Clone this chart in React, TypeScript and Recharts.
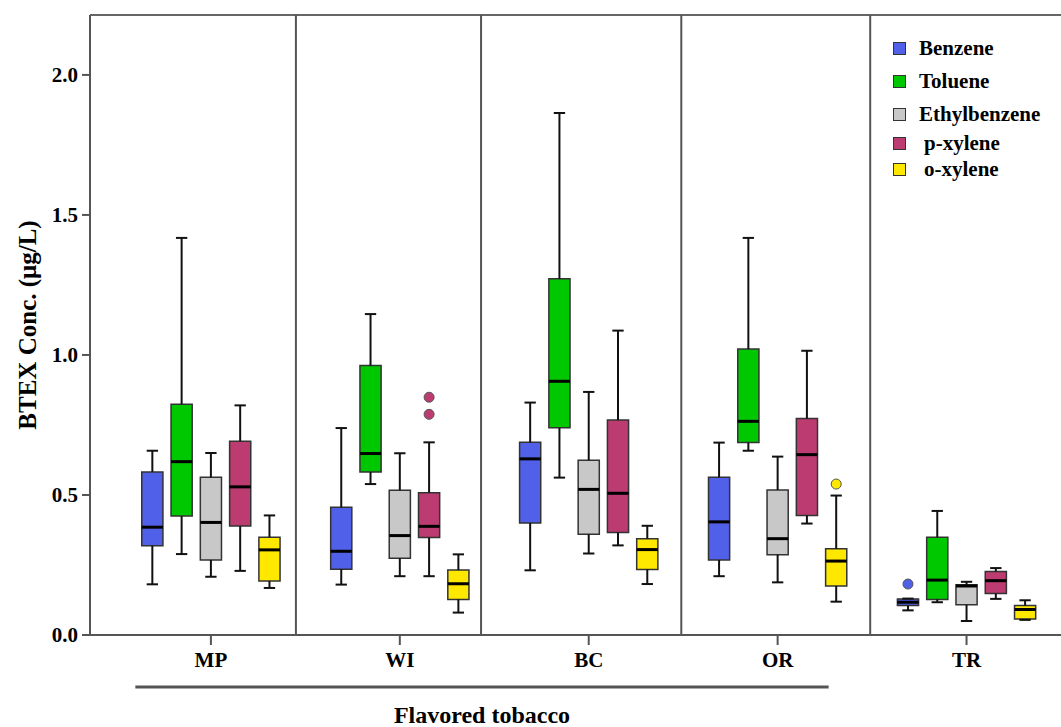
import React from "react";
import {
  ComposedChart,
  XAxis,
  YAxis,
  Scatter,
  ReferenceArea,
  ReferenceLine,
} from "recharts";

// tobacco groups along the x axis
const CATEGORIES = ["MP", "WI", "BC", "OR", "TR"];
const Y_TICKS = [0, 0.5, 1.0, 1.5, 2.0];
const Y_MAX = 2.214;

// [min, q1, median, q3, max] per group (ug/L)
const benzene = [
  [0.181, 0.319, 0.385, 0.582, 0.658],
  [0.18, 0.235, 0.299, 0.456, 0.739],
  [0.231, 0.4, 0.629, 0.688, 0.83],
  [0.21, 0.268, 0.404, 0.563, 0.687],
  [0.088, 0.105, 0.117, 0.129, 0.13],
];
const toluene = [
  [0.289, 0.425, 0.619, 0.824, 1.418],
  [0.539, 0.582, 0.648, 0.962, 1.146],
  [0.562, 0.74, 0.906, 1.272, 1.864],
  [0.658, 0.687, 0.763, 1.021, 1.418],
  [0.117, 0.127, 0.196, 0.349, 0.443],
];
const ethylbenzene = [
  [0.208, 0.268, 0.402, 0.563, 0.65],
  [0.21, 0.274, 0.355, 0.517, 0.649],
  [0.291, 0.36, 0.52, 0.624, 0.868],
  [0.188, 0.287, 0.344, 0.518, 0.637],
  [0.05, 0.108, 0.175, 0.179, 0.19],
];
const pXylene = [
  [0.229, 0.389, 0.529, 0.692, 0.82],
  [0.21, 0.348, 0.388, 0.508, 0.688],
  [0.32, 0.366, 0.506, 0.768, 1.087],
  [0.398, 0.427, 0.644, 0.773, 1.015],
  [0.129, 0.148, 0.194, 0.227, 0.239],
];
const oXylene = [
  [0.168, 0.193, 0.304, 0.349, 0.427],
  [0.08, 0.127, 0.183, 0.232, 0.288],
  [0.182, 0.234, 0.305, 0.344, 0.39],
  [0.119, 0.175, 0.264, 0.308, 0.498],
  [0.054, 0.057, 0.091, 0.105, 0.124],
];

// outliers: [group index, value]
const benzeneOutliers = [[4, 0.182]];
const tolueneOutliers: number[][] = [];
const ethylbenzeneOutliers: number[][] = [];
const pXyleneOutliers = [
  [1, 0.788],
  [1, 0.849],
];
const oXyleneOutliers = [[3, 0.539]];

// where the group separators sit on the x scale
const DIVIDERS = [1.45, 2.43, 3.49, 4.49];
// the "Flavored tobacco" bracket spans these x values
const FLAVORED_SPAN = [0.6, 4.27];

const SERIES = [
  { name: "Benzene", color: "#5060e8", boxes: benzene, outliers: benzeneOutliers },
  { name: "Toluene", color: "#00c800", boxes: toluene, outliers: tolueneOutliers },
  { name: "Ethylbenzene", color: "#c8c8c8", boxes: ethylbenzene, outliers: ethylbenzeneOutliers },
  { name: "p-xylene", color: "#bc3c72", boxes: pXylene, outliers: pXyleneOutliers },
  { name: "o-xylene", color: "#ffe800", boxes: oXylene, outliers: oXyleneOutliers },
];

const OFFSETS = [-0.31, -0.155, 0, 0.155, 0.31];
const BOX_HALF = 0.056;
const CAP_HALF = 0.03;
const FONT = "'Liberation Serif', 'Times New Roman', serif";
const LEGEND_TOPS = [0, 33, 66, 95, 121];

function BoxLegend() {
  return (
    <div style={{ position: "absolute", left: 893, top: 36, width: 170, height: 140, fontFamily: FONT }}>
      {SERIES.map((s, i) => (
        <div
          key={s.name}
          style={{
            position: "absolute",
            top: LEGEND_TOPS[i],
            left: 0,
            display: "flex",
            alignItems: "center",
            fontWeight: "bold",
            fontSize: 21,
            lineHeight: "24px",
            color: "#000",
            whiteSpace: "nowrap",
          }}
        >
          <span
            style={{
              display: "inline-block",
              width: 11,
              height: 11,
              background: s.color,
              border: "1px solid #333",
              marginRight: i > 2 ? 18 : 13,
            }}
          />
          {s.name}
        </div>
      ))}
    </div>
  );
}

export default function App() {
  const boxes: React.ReactNode[] = [];
  SERIES.forEach((s, si) => {
    s.boxes.forEach(([min, q1, med, q3, max], ci) => {
      const x = ci + 1 + OFFSETS[si];
      const k = `${si}-${ci}`;
      boxes.push(
        <ReferenceLine key={`wu${k}`} segment={[{ x, y: q3 }, { x, y: max }]} stroke="#111" strokeWidth={2} />,
        <ReferenceLine key={`wl${k}`} segment={[{ x, y: min }, { x, y: q1 }]} stroke="#111" strokeWidth={2} />,
        <ReferenceLine key={`cu${k}`} segment={[{ x: x - CAP_HALF, y: max }, { x: x + CAP_HALF, y: max }]} stroke="#111" strokeWidth={2} />,
        <ReferenceLine key={`cl${k}`} segment={[{ x: x - CAP_HALF, y: min }, { x: x + CAP_HALF, y: min }]} stroke="#111" strokeWidth={2} />,
        <ReferenceArea
          key={`b${k}`}
          x1={x - BOX_HALF}
          x2={x + BOX_HALF}
          y1={q1}
          y2={q3}
          fill={s.color}
          fillOpacity={1}
          stroke="#333"
          strokeWidth={1.5}
        />,
        <ReferenceLine key={`m${k}`} segment={[{ x: x - BOX_HALF, y: med }, { x: x + BOX_HALF, y: med }]} stroke="#000" strokeWidth={3} />
      );
    });
  });

  return (
    <div style={{ position: "fixed", left: 0, top: 0, width: 1061, height: 727, background: "#fff" }}>
      <ComposedChart width={1061} height={727} margin={{ top: 15, right: 0, bottom: 0, left: 0 }}>
        <XAxis
          dataKey="x"
          type="number"
          domain={[0.36, 5.5]}
          ticks={[1, 2, 3, 4, 5]}
          tickFormatter={(v: number) => CATEGORIES[v - 1]}
          allowDataOverflow
          height={92}
          stroke="#555"
          strokeWidth={2}
          tickSize={10}
          tickMargin={7}
          tick={{ fill: "#000", fontFamily: FONT, fontWeight: "bold", fontSize: 21 }}
        />
        <YAxis
          dataKey="y"
          type="number"
          domain={[0, Y_MAX]}
          ticks={Y_TICKS}
          tickFormatter={(v: number) => v.toFixed(1)}
          allowDataOverflow
          width={90}
          stroke="#555"
          strokeWidth={2}
          tickSize={8}
          tickMargin={4}
          tick={{ fill: "#000", fontFamily: FONT, fontWeight: "bold", fontSize: 21 }}
          label={{
            content: (props: any) => {
              const vb = props.viewBox || {};
              const cy = (vb.y ?? 15) + (vb.height ?? 620) / 2;
              return (
                <text
                  x={27}
                  y={cy}
                  transform={`rotate(-90 27 ${cy})`}
                  textAnchor="middle"
                  dominantBaseline="central"
                  fontFamily={FONT}
                  fontWeight="bold"
                  fontSize={25}
                  fill="#000"
                >
                  BTEX Conc. (μg/L)
                </text>
              );
            },
          }}
        />
        <ReferenceLine y={Y_MAX} stroke="#666" strokeWidth={2} ifOverflow="visible" />
        {DIVIDERS.map((d) => (
          <ReferenceLine key={d} x={d} stroke="#555" strokeWidth={2} />
        ))}
        <ReferenceLine
          segment={[
            { x: FLAVORED_SPAN[0], y: -0.186 },
            { x: FLAVORED_SPAN[1], y: -0.186 },
          ]}
          stroke="#555"
          strokeWidth={3}
          ifOverflow="visible"
          label={{
            content: (props: any) => {
              const vb = props.viewBox || {};
              return (
                <text
                  x={(vb.x ?? 0) + (vb.width ?? 0) / 2}
                  y={(vb.y ?? 0) + 36}
                  textAnchor="middle"
                  fontFamily={FONT}
                  fontWeight="bold"
                  fontSize={24}
                  fill="#000"
                >
                  Flavored tobacco
                </text>
              );
            },
          }}
        />
        {boxes}
        {SERIES.map((s, si) => (
          <Scatter
            key={s.name}
            name={s.name}
            data={s.outliers.map(([ci, v]) => ({ x: ci + 1 + OFFSETS[si], y: v }))}
            isAnimationActive={false}
            shape={(p: any) => (
              <circle cx={p.cx} cy={p.cy} r={5} fill={s.color} stroke="#555" strokeWidth={1} />
            )}
          />
        ))}
      </ComposedChart>
      <BoxLegend />
    </div>
  );
}
